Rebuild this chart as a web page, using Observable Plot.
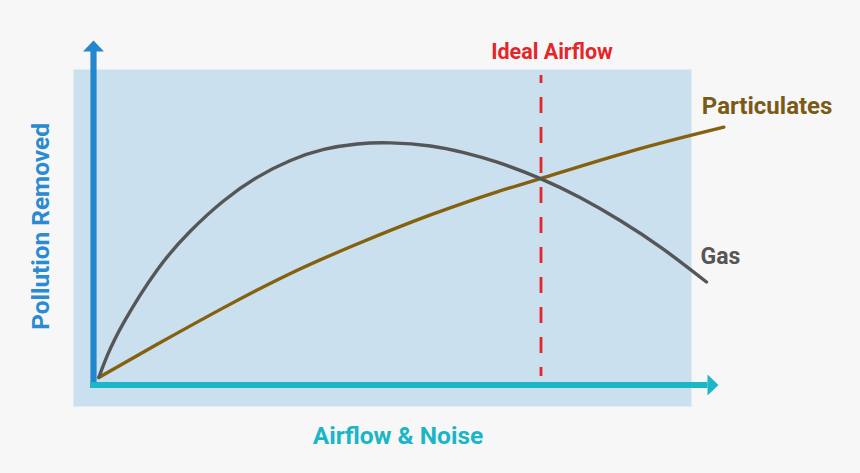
<!DOCTYPE html>
<html><head><meta charset="utf-8">
<script src="https://cdn.jsdelivr.net/npm/d3@7"></script>
<script src="https://cdn.jsdelivr.net/npm/@observablehq/plot@0.6"></script>
<style>html,body{margin:0;padding:0;background:#f7f7f7;} #chart svg{display:block;}</style>
</head><body><div id="chart"></div>
<script>
// ---- data ----
const gasX = [0.85, 2.2, 4.85, 10.19, 15.52, 20.85, 26.19, 31.52, 36.85, 42.19, 47.52, 53.92, 59.25, 64.59, 71.52, 77.92, 84.32, 91.0, 98.08];
const gasY = [2.18, 8.5, 18.18, 33.4, 44.7, 53.49, 60.27, 65.17, 68.37, 69.97, 70.29, 69.39, 67.47, 64.69, 59.91, 54.34, 47.68, 39.66, 29.89];
const particulatesX = [0.85, 10.19, 20.85, 31.52, 42.19, 53.92, 64.59, 71.52, 85.92, 100.85];
const particulatesY = [2.18, 11.8, 22.46, 32.38, 40.92, 49.37, 56.09, 59.9, 67.82, 74.84];
const seriesNames = ["Gas", "Particulates"];
const idealAirflow = 71.6;
const idealLabel = "Ideal Airflow";
const xTitle = "Airflow & Noise";
const yTitle = "Pollution Removed";
const xDomain = [0, 100];
const yDomain = [0, 100];

const gas = gasX.map((x, i) => ({x, y: gasY[i], series: seriesNames[0]}));
const particulates = particulatesX.map((x, i) => ({x, y: particulatesY[i], series: seriesNames[1]}));

const C = {
  bg: "#f7f7f7", panel: "#cbe0ee", yAxis: "#2387ce", xAxis: "#1bb7c6",
  gas: "#565656", part: "#85610f", partText: "#7b5a16", red: "#e3262a"
};
const font = "Roboto, 'Open Sans', sans-serif";

const arrowHead = {draw(ctx) { ctx.moveTo(0, 0); ctx.lineTo(10.5, 11); ctx.lineTo(-10.5, 11); ctx.closePath(); }};

const chart = Plot.plot({
  width: 860, height: 473,
  marginLeft: 73, marginRight: 169, marginTop: 69, marginBottom: 67,
  style: {background: C.bg, fontFamily: font, overflow: "visible"},
  x: {domain: xDomain, range: [93, 718], axis: null},
  y: {domain: yDomain, range: [384.5, 40], axis: null},
  marks: [
    Plot.frame({fill: C.panel, stroke: "none"}),
    // ideal airflow dashed line
    Plot.ruleX([idealAirflow], {x: d => d, y1: yDomain[1], y2: yDomain[0], insetTop: 35, insetBottom: 8.5,
      stroke: C.red, strokeWidth: 2.8, strokeDasharray: "16,14", strokeDashoffset: 8}),
    Plot.text([idealLabel], {x: idealAirflow, y: yDomain[1], text: d => d, dx: 11, dy: 18, lineAnchor: "bottom",
      fill: C.red, fontSize: 21.5, fontWeight: 700}),
    // curves
    Plot.line(particulates, {x: "x", y: "y", stroke: C.part, strokeWidth: 3.4, curve: "natural"}),
    Plot.line(gas, {x: "x", y: "y", stroke: C.gas, strokeWidth: 3.4, curve: "natural"}),
    // series labels
    Plot.text(particulates, Plot.selectLast({x: "x", y: "y", text: "series", textAnchor: "start", lineAnchor: "bottom",
      dx: -22, dy: -13, fill: C.partText, fontSize: 24, fontWeight: 700})),
    Plot.text(gas, Plot.selectLast({x: "x", y: "y", text: "series", textAnchor: "start", lineAnchor: "bottom",
      dx: -6, dy: -18.5, fill: C.gas, fontSize: 23, fontWeight: 700})),
    // axes arrows
    Plot.ruleX([xDomain[0]], {x: d => d, y1: yDomain[1], y2: yDomain[0], insetTop: 10.5, insetBottom: -3,
      stroke: C.yAxis, strokeWidth: 6.2}),
    Plot.dot([{x: xDomain[0], y: yDomain[1]}], {x: "x", y: "y", symbol: arrowHead, fill: C.yAxis, stroke: "none"}),
    Plot.ruleY([yDomain[0]], {y: d => d, x1: xDomain[0], x2: xDomain[1], insetLeft: -3, insetRight: 10.5,
      stroke: C.xAxis, strokeWidth: 6.2}),
    Plot.dot([{x: xDomain[1], y: yDomain[0]}], {x: "x", y: "y", symbol: arrowHead, rotate: 90, fill: C.xAxis, stroke: "none"}),
    // axis titles
    Plot.text([xTitle], {frameAnchor: "bottom", text: d => d, textAnchor: "middle", dx: 15.5, dy: 37, lineAnchor: "bottom",
      fill: "#1ab6c6", fontSize: 24.5, fontWeight: 700}),
    Plot.text([yTitle], {frameAnchor: "left", text: d => d, rotate: -90, textAnchor: "middle", dx: -25, dy: -11.5, lineAnchor: "bottom",
      fill: "#2a8ad2", fontSize: 24.4, fontWeight: 700})
  ]
});
document.getElementById("chart").appendChild(chart);
</script></body></html>
